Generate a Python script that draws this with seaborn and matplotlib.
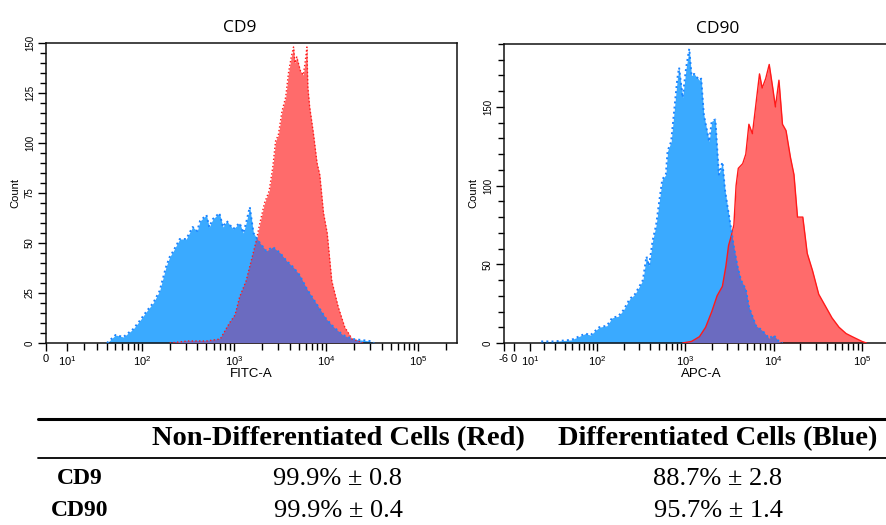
import numpy as np
import matplotlib
matplotlib.use("Agg")
import matplotlib.pyplot as plt
import seaborn as sns
from matplotlib.lines import Line2D

# CD9 histogram envelopes (log10 of fluorescence, event count)
cd9_blue_log = [1.60, 1.65, 1.70, 1.79, 1.90, 1.97, 2.05, 2.12, 2.19, 2.26, 2.30, 2.34, 2.41, 2.48,
                2.55, 2.60, 2.63, 2.70, 2.73, 2.77, 2.84, 2.88, 2.92, 2.99, 3.06, 3.10, 3.13, 3.17,
                3.21, 3.28, 3.35, 3.42, 3.50, 3.57, 3.64, 3.71, 3.79, 3.86, 3.93, 4.00, 4.08, 4.18,
                4.29, 4.47, 4.52]
cd9_blue_count = [0, 2, 4, 3, 7, 11, 16, 20, 26, 38, 43, 46, 52, 52,
                  58, 56, 61, 64, 58, 62, 65, 58, 61, 57, 60, 55, 60, 68,
                  55, 50, 46, 48, 45, 41, 38, 34, 27, 22, 17, 12, 8, 4,
                  2, 1, 0]
cd9_red_log = [2.30, 2.50, 2.70, 2.85, 2.90, 2.95, 3.01, 3.06, 3.13, 3.18, 3.24, 3.28, 3.33, 3.38,
               3.42, 3.45, 3.48, 3.52, 3.56, 3.59, 3.62, 3.645, 3.66, 3.68, 3.72, 3.75, 3.77, 3.79,
               3.80, 3.82, 3.86, 3.90, 3.93, 3.97, 4.01, 4.06, 4.13, 4.20, 4.28, 4.35, 4.40]
cd9_red_count = [0, 1, 1, 2, 6, 10, 14, 23, 31, 40, 51, 60, 70, 76,
                 88, 101, 104, 116, 123, 135, 143, 148, 140, 143, 136, 134, 140, 148,
                 128, 118, 105, 90, 84, 65, 55, 31, 18, 8, 2, 1, 0]

# CD90 histogram envelopes
cd90_blue_log = [1.25, 1.45, 1.69, 1.86, 1.92, 2.02, 2.11, 2.17, 2.24, 2.30, 2.37, 2.43, 2.48, 2.52,
                 2.56, 2.59, 2.63, 2.67, 2.71, 2.74, 2.78, 2.80, 2.84, 2.87, 2.91, 2.93, 2.97, 3.01,
                 3.045, 3.07, 3.10, 3.16, 3.18, 3.21, 3.27, 3.30, 3.34, 3.38, 3.42, 3.45, 3.48, 3.52,
                 3.55, 3.59, 3.63, 3.685, 3.72, 3.80, 3.87, 3.95, 4.00, 4.06, 4.10]
cd90_blue_count = [1, 1, 2, 6, 5, 10, 11, 16, 17, 21, 28, 31, 36, 40,
                   55, 49, 65, 75, 92, 104, 107, 122, 128, 145, 168, 175, 156, 175,
                   187, 170, 171, 167, 168, 145, 128, 141, 142, 107, 115, 97, 86, 72,
                   61, 49, 40, 34, 23, 11, 8, 3, 5, 1, 0]
cd90_red_log = [2.97, 3.07, 3.16, 3.23, 3.30, 3.36, 3.42, 3.46, 3.49, 3.52, 3.55, 3.575, 3.60, 3.65,
                3.685, 3.72, 3.76, 3.80, 3.84, 3.87, 3.91, 3.95, 3.99, 4.02, 4.06, 4.10, 4.14, 4.19,
                4.23, 4.27, 4.33, 4.38, 4.44, 4.51, 4.59, 4.66, 4.74, 4.82, 4.89, 5.00, 5.05]
cd90_red_count = [0, 1, 4, 10, 20, 30, 36, 49, 62, 68, 75, 100, 111, 114,
                  120, 139, 133, 152, 171, 162, 168, 177, 162, 150, 167, 139, 135, 118,
                  107, 80, 80, 57, 46, 31, 23, 16, 10, 6, 4, 1, 0]

titles = ["CD9", "CD90"]
xlabels = ["FITC-A", "APC-A"]

table_cols = ["Non-Differentiated Cells (Red)", "Differentiated Cells (Blue)"]
table_rows = ["CD9", "CD90"]
table_red = ["99.9% \u00b1 0.8", "99.9% \u00b1 0.4"]
table_blue = ["88.7% \u00b1 2.8", "95.7% \u00b1 1.4"]

BLUE = "#3aaaff"
BLUE_EDGE = "#1a84ff"
RED = "#ff6b6b"
RED_EDGE = "#ff1a1a"
PURPLE = "#6b6bc0"

sns.set_style("ticks")
plt.rcParams["font.family"] = ["Liberation Sans", "DejaVu Sans"]
plt.rcParams["mathtext.default"] = "regular"
for key in ["text.color", "axes.labelcolor", "xtick.color", "ytick.color"]:
    plt.rcParams[key] = "black"

W, H = 887, 525
fig = plt.figure(figsize=(W / 100, H / 100), dpi=100)


def px_axes(x0, y0, x1, y1):
    return fig.add_axes([x0 / W, 1 - y1 / H, (x1 - x0) / W, (y1 - y0) / H])


def draw_panel(ax, c, xlim, blue_log, blue_cnt, red_log, red_cnt, red_ls,
               ymax, ymajor, yminor, xticks, xticklabels, xlabel, title, title_x):
    ax.set_xscale("function", functions=(lambda v: np.arcsinh(np.asarray(v) / c),
                                         lambda v: c * np.sinh(np.asarray(v))))
    bx = 10 ** np.array(blue_log)
    rx = 10 ** np.array(red_log)
    ax.fill_between(bx, blue_cnt, color=BLUE, lw=0, zorder=1)
    red_fill = ax.fill_between(rx, red_cnt, color=RED, lw=0, zorder=2)
    overlap = ax.fill_between(bx, blue_cnt, color=PURPLE, lw=0, zorder=3)
    overlap.set_clip_path(red_fill.get_paths()[0], ax.transData)
    sns.lineplot(x=rx, y=red_cnt, ax=ax, color=RED_EDGE, lw=1.0, linestyle=red_ls, zorder=4)
    sns.lineplot(x=bx, y=blue_cnt, ax=ax, color=BLUE_EDGE, lw=1.4, linestyle=":", zorder=5)

    ax.set_xlim(*xlim)
    ax.set_ylim(0, ymax)
    minors = [k * 10 ** n for n in range(1, 6) for k in range(2, 10) if k * 10 ** n < xlim[1]]
    ax.set_xticks(xticks)
    ax.set_xticklabels(xticklabels)
    ax.set_xticks(minors, minor=True)
    ax.set_yticks(np.arange(0, ymax + 1, ymajor))
    ax.set_yticks(np.arange(0, ymax + 1, yminor), minor=True)
    ax.tick_params(axis="x", which="major", length=6, width=1, labelsize=8, pad=2)
    ax.tick_params(axis="x", which="minor", length=5, width=1)
    ax.tick_params(axis="y", which="major", length=6, width=1, labelsize=7, pad=2, labelrotation=90)
    ax.tick_params(axis="y", which="minor", length=4, width=1)
    for lab in ax.get_yticklabels():
        lab.set_va("center")
    for s in ax.spines.values():
        s.set_linewidth(1.1)
        s.set_color("#111111")
    ax.set_xlabel(xlabel, fontsize=9.5, labelpad=0)
    ax.set_ylabel("Count", fontsize=8, labelpad=3)
    ax.set_title(title, fontsize=12.5, pad=8, fontfamily=["Open Sans", "DejaVu Sans"])
    ax.title.set_position((title_x, 1.0))


ax1 = px_axes(46, 43, 457, 343)
draw_panel(ax1, 18.2, (0, 262144), cd9_blue_log, cd9_blue_count, cd9_red_log, cd9_red_count, ":",
           150, 25, 5, [0, 10, 100, 1e3, 1e4, 1e5],
           ["0", "$10^1$", "$10^2$", "$10^3$", "$10^4$", "$10^5$"], xlabels[0], titles[0], 0.472)

ax2 = px_axes(504, 44, 899, 343)
draw_panel(ax2, 23.0, (-6, 262144), cd90_blue_log, cd90_blue_count, cd90_red_log, cd90_red_count, "-",
           190, 50, 10, [-6, 0, 10, 100, 1e3, 1e4, 1e5],
           ["-6", "0", "$10^1$", "$10^2$", "$10^3$", "$10^4$", "$10^5$"], xlabels[1], titles[1], 0.540)

# summary table under the histograms
serif = ["Liberation Serif", "DejaVu Serif"]
fig.add_artist(Line2D([38 / W, 1.0], [1 - 419 / H, 1 - 419 / H], color="black", lw=2.2))
fig.add_artist(Line2D([38 / W, 1.0], [1 - 458 / H, 1 - 458 / H], color="black", lw=1.3))
col_x = [338, 718]
for cx, txt in zip(col_x, table_cols):
    fig.text(cx / W, 1 - 439 / H, txt, ha="center", va="center", fontsize=20.5,
             fontweight="bold", fontfamily=serif, color="black")
row_y = [479, 511]
for ry, name, r, b in zip(row_y, table_rows, table_red, table_blue):
    fig.text(80 / W, 1 - ry / H, name, ha="center", va="center", fontsize=17,
             fontweight="bold", fontfamily=serif, color="black")
    fig.text(col_x[0] / W, 1 - ry / H, r, ha="center", va="center", fontsize=19,
             fontfamily=serif, color="black")
    fig.text(col_x[1] / W, 1 - ry / H, b, ha="center", va="center", fontsize=19,
             fontfamily=serif, color="black")

fig.savefig("out.png", dpi=100)
